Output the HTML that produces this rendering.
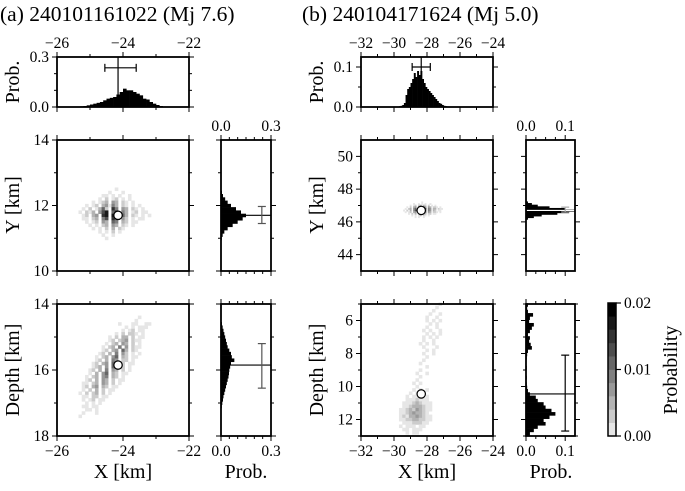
<!DOCTYPE html>
<html><head><meta charset="utf-8"><style>
html,body{margin:0;padding:0;background:#fff;}
svg, svg text{font-family:"Liberation Serif","DejaVu Serif",serif;}
</style></head><body>
<svg id="fig" width="685" height="486" viewBox="0 0 685 486" xmlns="http://www.w3.org/2000/svg" font-family="Liberation Serif, DejaVu Serif, serif">
<text x="0" y="21" font-size="21.5" font-family="Liberation Serif, serif">(a) 240101161022 (Mj 7.6)</text>
<text x="302" y="21" font-size="21.5" font-family="Liberation Serif, serif">(b) 240104171624 (Mj 5.0)</text>
</svg>
<script>
// ---------- data ----------
const aTopStart=-25.4, aTopStep=0.1;
const aTopVals=[0.002,0.004,0.006,0.01,0.015,0.02,0.025,0.03,0.04,0.05,0.055,0.06,0.075,0.09,0.11,0.1,0.1,0.09,0.08,0.07,0.05,0.045,0.03,0.02,0.012,0.006,0.003];
const aYStart=10.95, aYStep=0.1;
const aYVals=[0.005,0.01,0.02,0.04,0.07,0.1,0.13,0.15,0.12,0.09,0.06,0.04,0.025,0.012,0.006,0.002];
const aDStart=14.45, aDStep=0.1;
const aDVals=[0.003,0.006,0.01,0.015,0.02,0.025,0.03,0.035,0.04,0.05,0.06,0.065,0.08,0.06,0.055,0.05,0.048,0.045,0.04,0.035,0.03,0.025,0.02,0.015,0.012,0.008,0.005,0.003,0.002];
const bTopStart=-29.8, bTopStep=0.1;
const bTopVals=[0.001,0.002,0.003,0.005,0.01,0.03,0.045,0.05,0.06,0.07,0.085,0.075,0.09,0.08,0.09,0.07,0.06,0.05,0.045,0.04,0.035,0.03,0.025,0.02,0.015,0.01,0.008,0.005,0.003,0.002,0.001,0,0];
const bYStart=46.15, bYStep=0.1;
const bYVals=[0.005,0.02,0.04,0.08,0.11,0.125,0.1,0.06,0.03,0.015,0.005];
const bDStart=4.95, bDStep=0.2;
const bDVals=[0.005,0.003,0.005,0.018,0.01,0.008,0.02,0.015,0.01,0.005,0.01,0.008,0.012,0.015,0.005,0.003,0.002,0.001,0.001,0.002,0.001,0.001,0.002,0.001,0.002,0.003,0.005,0.01,0.025,0.03,0.045,0.05,0.065,0.075,0.06,0.045,0.05,0.03,0.02,0.01];
const aMean=[-24.15,11.7,15.85];
const aErrX=[-24.55,-23.6], aErrY=[11.45,11.97], aErrD=[15.2,16.55];
const bMean=[-28.35,46.7,10.45];
const bErrX=[-28.9,-27.8], bErrY=[46.6,46.9], bErrD=[8.1,12.7];
// heatmaps: digit d -> probability d*0.002
const aXYx0=-25.3, aXYy0=12.5, aXYstep=0.1;
const aXYgrid=["00000000000100000000000","00000000010001000000000","00000001101010010000000","00000010201201010000000","00001012304302101000000","00101203415302101010000","01020136208504302101000","10213047906805301201100","01203408909706302101010","01102305708604201011000","00101204306503201100000","00010102304302101000000","00001010203021000000000","00000010102010000000000","00000001001000000000000","00000000100000000000000"];
const aXDx0=-25.3, aXDy0=14.4, aXDstep=0.1;
const aXDgrid=["00000000000000000010000","00000000000000000100000","00000000000010001100110","00000000000000101011100","00000000000001012011000","00000000000102022101000","00000000010203302011000","00000000012023402110000","00000000102304302010000","00000001023050402110000","00000001203406302100000","00000012030504201010000","00000102304603201100000","00000120305402201000000","00001203406502011000000","00001230406302010000000","00012030504302010000000","00010304603201100000000","00102304503201000000000","00120304302011000000000","01102304302010000000000","01203403201100000000000","01020302011000000000000","10202302010000000000000","01102201100000000000000","01012011000000000000000","00101010000000000000000","01101100000000000000000","00110100000000000000000","01000100000000000000000","10000000000000000000000"];
const bXYx0=-29.5, bXYy0=47.2, bXYstep=0.1;
const bXYgrid=["000000000000100000000000000","000000010010101001000000000","000001012023032020101000000","000102034056054043022101000","001023046089087054033021100","010203047089086054032011000","001012034067065043022101000","000010203034043022011000000","000000101012021010000000000","000000001010010000000000000"];
const bXDx0=-29.8, bXDy0=5.0, bXDstep=0.2;
const bXDgrid=["000000000000010","000000000000100","000000000001000","000000000010010","000000000100100","000000000101010","000000000010100","000000000100100","000000001010010","000000000101010","000000001010100","000000001001000","000000010101000","000000001000100","000000000101000","000000001001000","000000000100000","000000001000000","000000010000000","000000000100000","000000010000000","000000100100000","000000010000000","000000100000000","000001010000000","000000100000000","000001010100000","000010101000000","000101110100000","000111211100000","001112321110000","001123332110000","011232432110000","011234332100000","012133432110000","011223322110000","001112221100000","010111011000000","001101110000000","000101100000000"];
const cbTicks=[0,0.01,0.02], cbLabels=["0.00","0.01","0.02"];

// ---------- drawing ----------
const svg=document.getElementById('fig');
const NS='http://www.w3.org/2000/svg';
const FF='Liberation Serif, DejaVu Serif, serif';
function el(tag,attrs,parent){const e=document.createElementNS(NS,tag);for(const k in attrs)e.setAttribute(k,attrs[k]);if(tag==='text')e.setAttribute('font-family',FF);(parent||svg).appendChild(e);return e;}
function fmt(v,d){const s=Math.abs(v).toFixed(d);return (v<0?'−':'')+s;}
function gray(p){let l=Math.min(10,Math.ceil(p/0.002-1e-9));const g=Math.round(255*(1-l/10));return `rgb(${g},${g},${g})`;}

function makeAxes(o){
  const sx=v=>o.x+(v-o.xd[0])/(o.xd[1]-o.xd[0])*o.w;
  const sy=v=>o.y+(v-o.yd[0])/(o.yd[1]-o.yd[0])*o.h;
  const g=el('g',{});
  
  
  o.g=g;o.sx=sx;o.sy=sy;
  return o;
}
function finishAxes(o){
  const g=o.g,sx=o.sx,sy=o.sy;
  el('rect',{x:o.x,y:o.y,width:o.w,height:o.h,fill:'none',stroke:'#000','stroke-width':1.8},g);
  const tk=(x1,y1,x2,y2)=>el('line',{x1,y1,x2,y2,stroke:'#000','stroke-width':1},g);
  o.xt.forEach(v=>{const X=sx(v);tk(X,o.y,X,o.y-5);tk(X,o.y+o.h,X,o.y+o.h+5);});
  o.xm.forEach(v=>{const X=sx(v);tk(X,o.y,X,o.y-3);tk(X,o.y+o.h,X,o.y+o.h+3);});
  o.yt.forEach(v=>{const Y=sy(v);tk(o.x,Y,o.x-5,Y);tk(o.x+o.w,Y,o.x+o.w+5,Y);});
  o.ym.forEach(v=>{const Y=sy(v);tk(o.x,Y,o.x-3,Y);tk(o.x+o.w,Y,o.x+o.w+3,Y);});
  if(o.xlabTop) o.xt.forEach(v=>{const t=el('text',{x:o.sx(v),y:o.y-9,'font-size':15.5,'text-anchor':'middle'},g);t.textContent=fmt(v,o.xdec||0);});
  if(o.xlabBot) o.xt.forEach(v=>{const t=el('text',{x:o.sx(v),y:o.y+o.h+20,'font-size':15.5,'text-anchor':'middle'},g);t.textContent=fmt(v,o.xdec||0);});
  if(o.ylab) o.yt.forEach(v=>{const t=el('text',{x:o.x-8,y:o.sy(v)+5,'font-size':15.5,'text-anchor':'end'},g);t.textContent=fmt(v,o.ydec||0);});
}
function heat(o,grid,x0,y0,step){
  grid.forEach((row,r)=>{for(let c=0;c<row.length;c++){const d=+row[c];if(!d)continue;
    const xv=x0+c*step, yv=y0+(o.yd[0]>o.yd[1]?-1:1)*r*step;
    const X1=o.sx(xv-step/2),X2=o.sx(xv+step/2),Y1=o.sy(yv-step/2),Y2=o.sy(yv+step/2);
    const rc=el('rect',{x:Math.min(X1,X2),y:Math.min(Y1,Y2),width:Math.abs(X2-X1)+0.3,height:Math.abs(Y2-Y1)+0.3,fill:gray(d*0.002)},o.g);
    
    
  }});
}
function vhist(o,start,step,vals){
  vals.forEach((p,i)=>{if(!p)return;const X1=o.sx(start+i*step),X2=o.sx(start+(i+1)*step);const Y=o.sy(p),B=o.sy(0);
    const b=el('rect',{x:X1,y:Y,width:X2-X1+0.3,height:B-Y,fill:'#000'},o.g);
    
    });
}
function hhist(o,start,step,vals){
  vals.forEach((p,i)=>{if(!p)return;const Y1=o.sy(start+i*step),Y2=o.sy(start+(i+1)*step);const X=o.sx(p),B=o.sx(0);
    const b=el('rect',{x:B,y:Math.min(Y1,Y2),width:X-B,height:Math.abs(Y2-Y1)+0.3,fill:'#000'},o.g);
    
    });
}
function line(g,x1,y1,x2,y2,c,w){return el('line',{x1,y1,x2,y2,stroke:c||'#000','stroke-width':w||1.2},g);}
function errH(o,lo,hi,p,col){const g=o.g,Y=o.sy(p);line(g,o.sx(lo),Y,o.sx(hi),Y,col);line(g,o.sx(lo),Y-4,o.sx(lo),Y+4,col);line(g,o.sx(hi),Y-4,o.sx(hi),Y+4,col);}
function errV(o,lo,hi,p,col){const g=o.g,X=o.sx(p);line(g,X,o.sy(lo),X,o.sy(hi),col);line(g,X-4,o.sy(lo),X+4,o.sy(lo),col);line(g,X-4,o.sy(hi),X+4,o.sy(hi),col);}
function marker(o,xv,yv){const c=el('circle',{cx:o.sx(xv),cy:o.sy(yv),r:4.2,fill:'#fff',stroke:'#000','stroke-width':1.2},o.g);}
function title(x,y,txt,rot,name){const t=el('text',{x,y,'font-size':20,'text-anchor':'middle',transform:rot?`rotate(-90 ${x} ${y})`:''});t.textContent=txt;}

// ---- Panel a ----
const aT=makeAxes({name:'a-x-histogram',x:57,y:57,w:132,h:50,xd:[-26,-22],yd:[0.3,0],xt:[-26,-24,-22],xm:[-25,-23],yt:[0,0.3],ym:[0.1,0.2],xlabTop:1,ylab:1,ydec:1});
vhist(aT,aTopStart,aTopStep,aTopVals);
line(aT.g,aT.sx(aMean[0]),aT.sy(0.3),aT.sx(aMean[0]),aT.sy(0));
errH(aT,aErrX[0],aErrX[1],0.235);
finishAxes(aT);
const aM=makeAxes({name:'a-xy-map',x:57,y:140,w:132,h:131,xd:[-26,-22],yd:[14,10],xt:[-26,-24,-22],xm:[-25,-23],yt:[10,12,14],ym:[11,13],ylab:1});
heat(aM,aXYgrid,aXYx0,aXYy0,aXYstep);marker(aM,aMean[0],aMean[1]);finishAxes(aM);
const aR=makeAxes({name:'a-y-histogram',x:221,y:140,w:50,h:131,xd:[0,0.3],yd:[14,10],xt:[0,0.3],xm:[0.05,0.1,0.15,0.2,0.25],yt:[10,12,14],ym:[11,13],xlabTop:1,xdec:1});
hhist(aR,aYStart,aYStep,aYVals);
line(aR.g,aR.sx(0),aR.sy(aMean[1]),aR.sx(0.3),aR.sy(aMean[1]));
errV(aR,aErrY[0],aErrY[1],0.245,'#555');finishAxes(aR);
const aD=makeAxes({name:'a-depth-map',x:57,y:304,w:132,h:132,xd:[-26,-22],yd:[14,18],xt:[-26,-24,-22],xm:[-25,-23],yt:[14,16,18],ym:[15,17],ylab:1,xlabBot:1});
heat(aD,aXDgrid,aXDx0,aXDy0,aXDstep);marker(aD,aMean[0],aMean[2]);finishAxes(aD);
const aDR=makeAxes({name:'a-depth-histogram',x:221,y:304,w:50,h:132,xd:[0,0.3],yd:[14,18],xt:[0,0.3],xm:[0.05,0.1,0.15,0.2,0.25],yt:[14,16,18],ym:[15,17],xlabBot:1,xdec:1});
hhist(aDR,aDStart,aDStep,aDVals);
line(aDR.g,aDR.sx(0),aDR.sy(aMean[2]),aDR.sx(0.3),aDR.sy(aMean[2]));
errV(aDR,aErrD[0],aErrD[1],0.245,'#555');finishAxes(aDR);
title(19,82,'Prob.',1,'a-prob-axis-title');
title(19,205,'Y [km]',1,'a-y-axis-title');
title(19,370,'Depth [km]',1,'a-depth-axis-title');
title(123,478,'X [km]',0,'a-x-axis-title');
title(246,478,'Prob.',0,'a-prob-x-axis-title');

// ---- Panel b ----
const bT=makeAxes({name:'b-x-histogram',x:361,y:57,w:132,h:50,xd:[-32,-24],yd:[0.125,0],xt:[-32,-30,-28,-26,-24],xm:[-31,-29,-27,-25],yt:[0,0.1],ym:[0.05],xlabTop:1,ylab:1,ydec:1});
vhist(bT,bTopStart,bTopStep,bTopVals);
line(bT.g,bT.sx(bMean[0]),bT.sy(0.125),bT.sx(bMean[0]),bT.sy(0));
errH(bT,bErrX[0],bErrX[1],0.1);finishAxes(bT);
const bM=makeAxes({name:'b-xy-map',x:361,y:140,w:132,h:131,xd:[-32,-24],yd:[51,43],xt:[-32,-30,-28,-26,-24],xm:[-31,-29,-27,-25],yt:[44,46,48,50],ym:[45,47,49],ylab:1});
heat(bM,bXYgrid,bXYx0,bXYy0,bXYstep);marker(bM,bMean[0],bMean[1]);finishAxes(bM);
const bR=makeAxes({name:'b-y-histogram',x:526,y:140,w:49,h:131,xd:[0,0.125],yd:[51,43],xt:[0,0.1],xm:[0.025,0.05,0.075],yt:[44,46,48,50],ym:[45,47,49],xlabTop:1,xdec:1});
hhist(bR,bYStart,bYStep,bYVals);
line(bR.g,bR.sx(0),bR.sy(bMean[1]),bR.sx(0.125),bR.sy(bMean[1]),'#fff');
errV(bR,bErrY[0],bErrY[1],0.1,'#aaa');finishAxes(bR);
const bD=makeAxes({name:'b-depth-map',x:361,y:304,w:132,h:132,xd:[-32,-24],yd:[5,13],xt:[-32,-30,-28,-26,-24],xm:[-31,-29,-27,-25],yt:[6,8,10,12],ym:[5,7,9,11,13],ylab:1,xlabBot:1});
heat(bD,bXDgrid,bXDx0,bXDy0,bXDstep);marker(bD,bMean[0],bMean[2]);finishAxes(bD);
const bDR=makeAxes({name:'b-depth-histogram',x:526,y:304,w:49,h:132,xd:[0,0.125],yd:[5,13],xt:[0,0.1],xm:[0.025,0.05,0.075],yt:[6,8,10,12],ym:[5,7,9,11,13],xlabBot:1,xdec:1});
hhist(bDR,bDStart,bDStep,bDVals);
line(bDR.g,bDR.sx(0),bDR.sy(bMean[2]),bDR.sx(0.125),bDR.sy(bMean[2]));
errV(bDR,bErrD[0],bErrD[1],0.1);finishAxes(bDR);
title(323,82,'Prob.',1,'b-prob-axis-title');
title(323,205,'Y [km]',1,'b-y-axis-title');
title(323,370,'Depth [km]',1,'b-depth-axis-title');
title(427,478,'X [km]',0,'b-x-axis-title');
title(551,478,'Prob.',0,'b-prob-x-axis-title');

// ---- colorbar ----
const cb=el('g',{});


const cbx=608,cby=303,cbw=8,cbh=133;
for(let i=0;i<10;i++){const p=(i+0.5)*0.002;const y1=cby+cbh-(i+1)*cbh/10;
  const r=el('rect',{x:cbx,y:y1,width:cbw,height:cbh/10+0.3,fill:gray(p)},cb);
  
  }
el('rect',{x:cbx,y:cby,width:cbw,height:cbh,fill:'none',stroke:'#000','stroke-width':1.5},cb);
cbTicks.forEach((v,i)=>{const y=cby+cbh-v/0.02*cbh;line(cb,cbx+cbw,y,cbx+cbw+5,y);
  const t=el('text',{x:cbx+cbw+8,y:y+5,'font-size':15.5},cb);t.textContent=cbLabels[i];
  
  });
title(677,370,'Probability',1,'colorbar-title');
</script>
</body></html>
